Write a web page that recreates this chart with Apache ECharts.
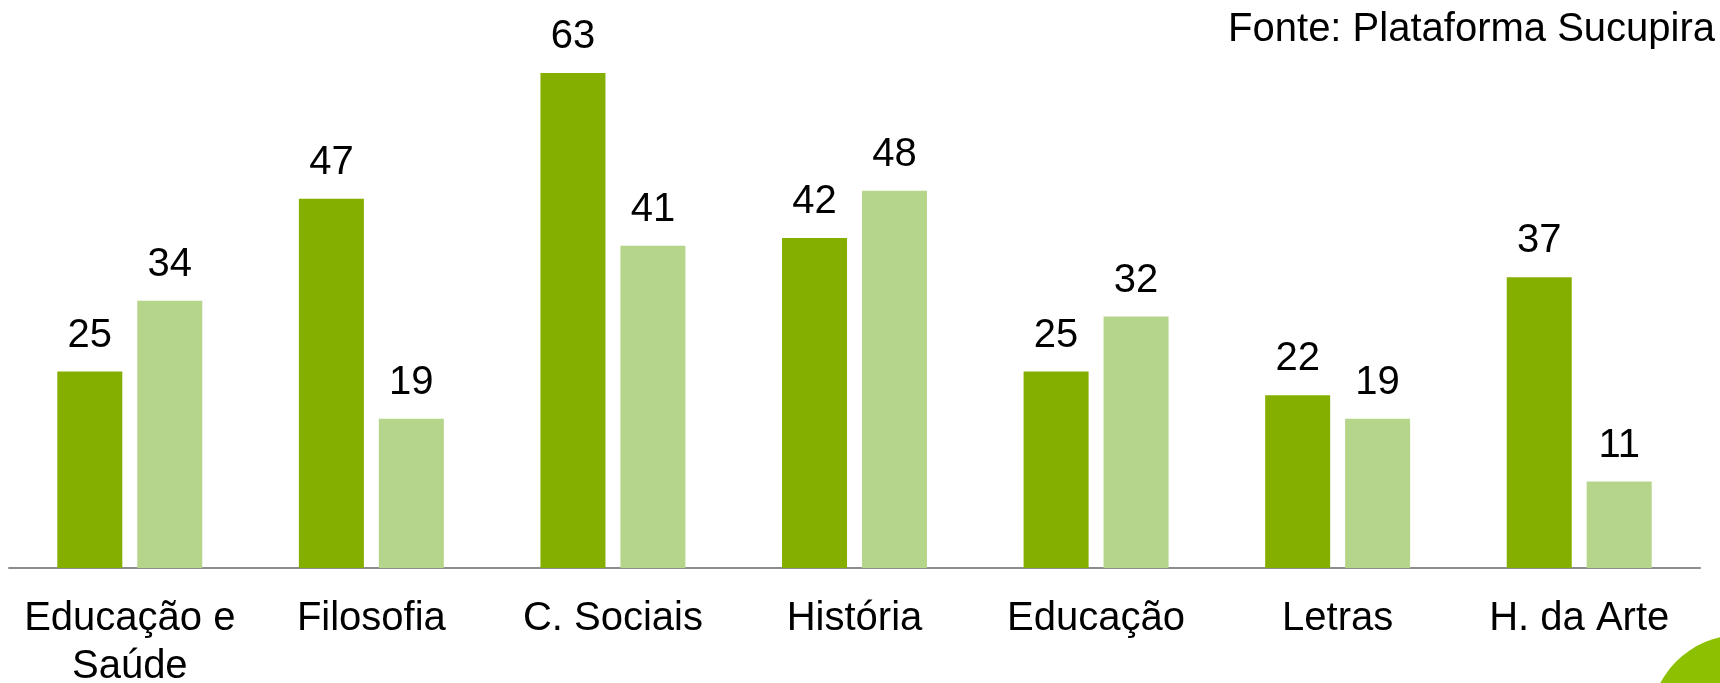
<!DOCTYPE html>
<html>
<head>
<meta charset="utf-8">
<script src="https://cdn.jsdelivr.net/npm/echarts@6/dist/echarts.min.js"></script>
<style>
html,body{margin:0;padding:0;background:#fff;}
#c{width:1720px;height:683px;}
</style>
</head>
<body>
<div id="c"></div>
<script>
const categories = ["Educação e\nSaúde", "Filosofia", "C. Sociais", "História", "Educação", "Letras", "H. da Arte"];
const seriesA = [25, 47, 63, 42, 25, 22, 37];
const seriesB = [34, 19, 41, 48, 32, 19, 11];
const sourceText = "Fonte: Plataforma Sucupira";

const FONT = "'Liberation Sans', Arial, sans-serif";
const chart = echarts.init(document.getElementById('c'), null, {renderer: 'canvas'});
const labelStyle = {
  show: true, position: 'top', distance: 16,
  color: '#000', fontSize: 40, fontFamily: FONT
};
chart.setOption({
  animation: false,
  backgroundColor: '#fff',
  grid: {left: 9, right: 20, top: 18, bottom: 115, containLabel: false, outerBoundsMode: 'none'},
  xAxis: {
    type: 'category',
    data: categories,
    axisLine: {show: true, lineStyle: {color: '#8c8c8c', width: 2}},
    axisTick: {show: false},
    axisLabel: {
      interval: 0, margin: 27, color: '#000', fontSize: 40, fontFamily: FONT,
      lineHeight: 48
    }
  },
  yAxis: {
    type: 'value', min: 0, max: 70,
    show: false, splitLine: {show: false}
  },
  series: [
    {type: 'bar', data: seriesA, barWidth: 65, barGap: '23%',
     itemStyle: {color: '#84af00'}, label: labelStyle},
    {type: 'bar', data: seriesB, barWidth: 65, barGap: '23%',
     itemStyle: {color: '#b5d58a'}, label: labelStyle}
  ],
  graphic: [
    {type: 'text', right: 5, top: 10,
     style: {text: sourceText, fill: '#000', font: '40px ' + FONT}},
    {type: 'circle', shape: {cx: 1740, cy: 725, r: 90},
     style: {fill: '#8cc000'}, z: -1}
  ]
});
</script>
</body>
</html>
